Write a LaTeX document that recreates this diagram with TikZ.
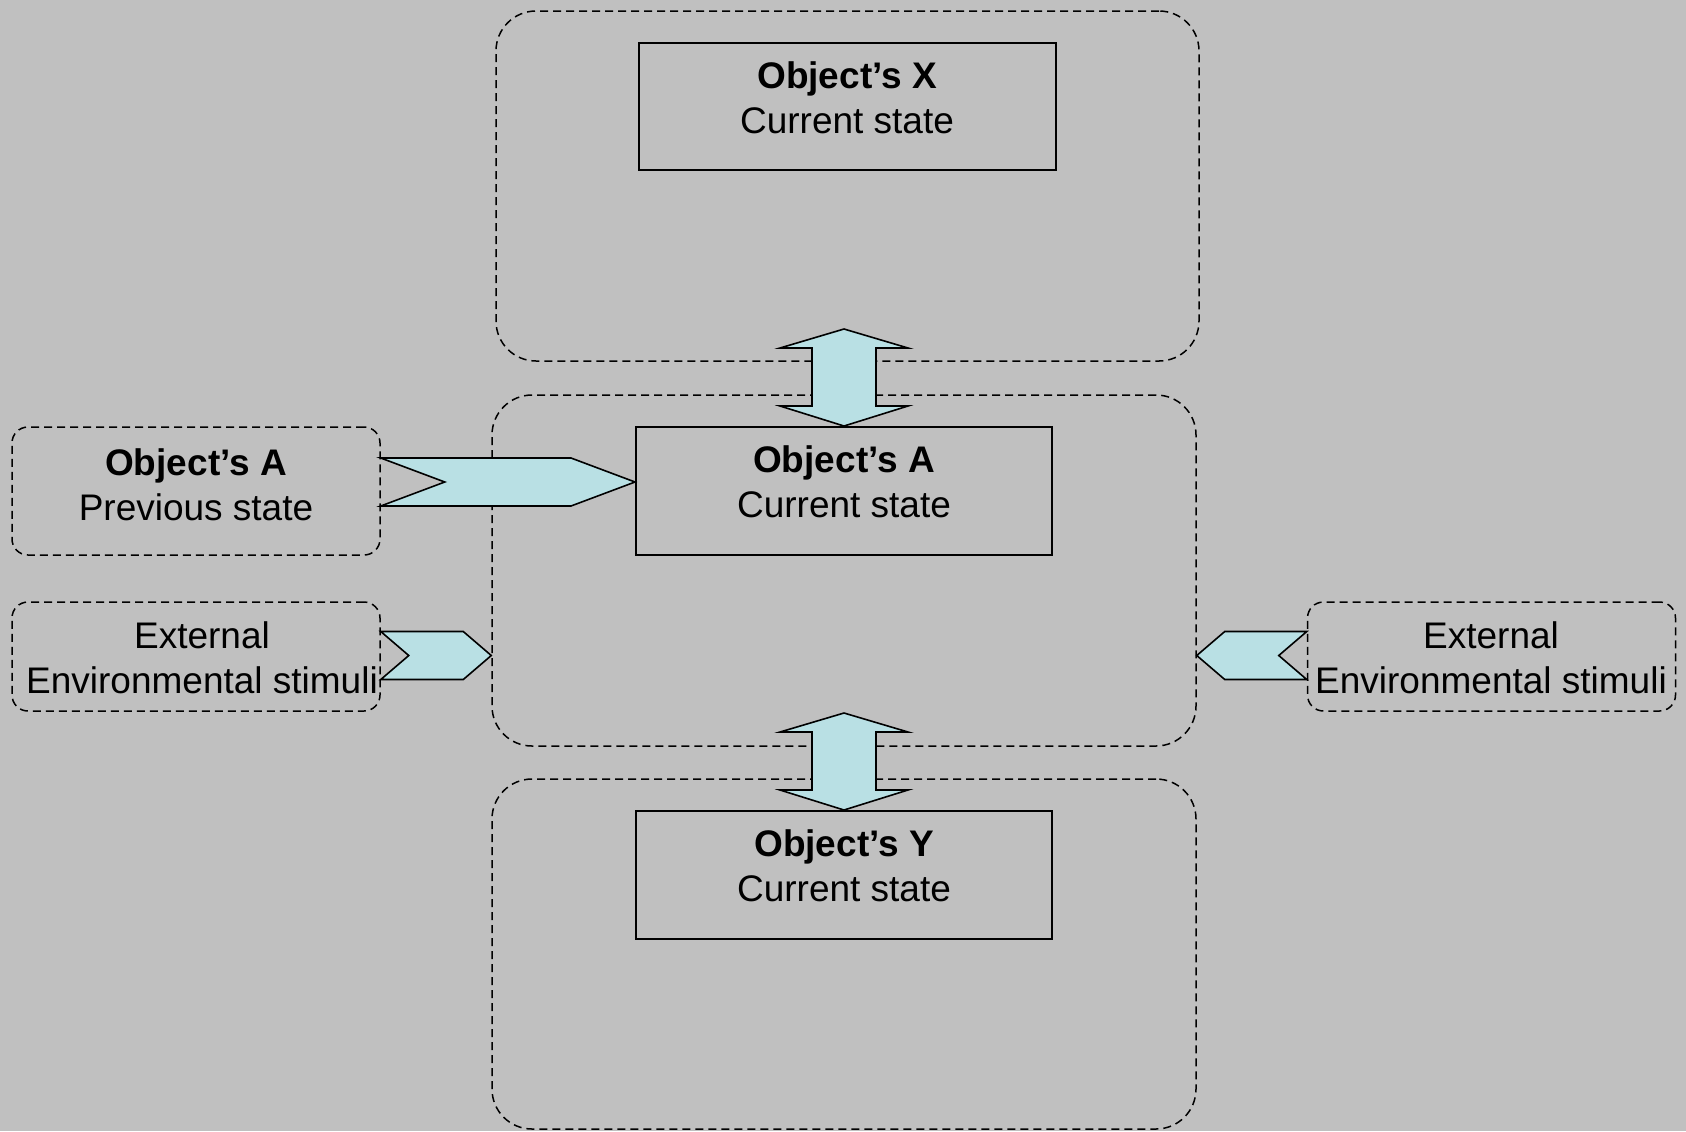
\documentclass[tikz,border=0pt]{standalone}
\usepackage{fontspec}
\setmainfont{Liberation Sans}
\usetikzlibrary{calc}
\definecolor{bggray}{RGB}{192,192,192}
\definecolor{arrowfill}{RGB}{185,224,228}
\begin{document}
\begin{tikzpicture}[x=0.5pt,y=-0.5pt,
  container/.style={draw, dashed, dash pattern=on 4pt off 2.5pt, line width=0.75pt, rounded corners=20pt, inner sep=0},
  smallbox/.style={draw, dashed, dash pattern=on 4pt off 2.5pt, line width=0.75pt, rounded corners=8pt, inner sep=0, minimum width=184pt, minimum height=64pt},
  statebox/.style={draw, line width=1pt, inner sep=0, minimum width=208pt, minimum height=64pt},
  txt/.style={inner sep=0, align=center, font=\fontsize{18.5}{22.5}\selectfont},
  blockarrow/.style={draw, line width=0.8pt, fill=arrowfill, line join=miter}
]
\fill[bggray] (0,0) rectangle (1686,1131);
\useasboundingbox (0,0) rectangle (1686,1131);

% containers
\node[container, minimum width=351.5pt, minimum height=175pt] (contX) at (847.5,186) {};
\node[container, minimum width=352pt, minimum height=175.5pt] (contA) at (844,570.5) {};
\node[container, minimum width=352pt, minimum height=175pt] (contY) at (844,954) {};

% state boxes
\node[statebox, minimum width=208.5pt, minimum height=63.5pt] (boxX) at (847.5,106.5) {};
\node[statebox] (boxA) at (844,491) {};
\node[statebox] (boxY) at (844,875) {};

% side boxes
\node[smallbox] (prev) at (196,491) {};
\node[smallbox, minimum height=54.5pt] (extL) at (196,656.5) {};
\node[smallbox, minimum height=54.5pt] (extR) at (1491.5,656.5) {};

% texts
\node[txt] (tX) at (847,97.5) {\textbf{Object’s X}\\Current state};
\node[txt] (tA) at (844,481.5) {\textbf{Object’s A}\\Current state};
\node[txt] (tY) at (844,865.5) {\textbf{Object’s Y}\\Current state};
\node[txt] (tP) at (196,485) {\textbf{Object’s A}\\Previous state};
\node[txt] (tL) at (202,657.5) {External\\Environmental stimuli};
\node[txt] (tR) at (1491,657.5) {External\\Environmental stimuli};

% arrow previous -> current A
\draw[blockarrow]
  ($(prev.east)+(0,-33)$) -- ($(boxA.west)+(-64,-33)$) -- ($(boxA.west)+(0,-9)$)
  -- ($(boxA.west)+(-64,15)$) -- ($(prev.east)+(0,15)$) -- ($(prev.east)+(64,-9)$) -- cycle;

% left external arrow
\coordinate (tipL) at (contA.west |- extL.east);
\draw[blockarrow]
  ($(extL.east)+(0,-25)$) -- ($(tipL)+(-28,-25)$) -- ($(tipL)+(0,-1)$)
  -- ($(tipL)+(-28,23)$) -- ($(extL.east)+(0,23)$) -- ($(extL.east)+(28,-1)$) -- cycle;

% right external arrow
\coordinate (tipR) at (contA.east |- extR.west);
\draw[blockarrow]
  ($(extR.west)+(0,-25)$) -- ($(tipR)+(28,-25)$) -- ($(tipR)+(0,-1)$)
  -- ($(tipR)+(28,23)$) -- ($(extR.west)+(0,23)$) -- ($(extR.west)+(-28,-1)$) -- cycle;

% double arrows
\foreach \b in {boxA,boxY}{
  \draw[blockarrow]
    ($(\b.north)+(0,-97)$) -- ($(\b.north)+(64,-78)$) -- ($(\b.north)+(32,-78)$)
    -- ($(\b.north)+(32,-20)$) -- ($(\b.north)+(64,-20)$) -- (\b.north)
    -- ($(\b.north)+(-64,-20)$) -- ($(\b.north)+(-32,-20)$) -- ($(\b.north)+(-32,-78)$)
    -- ($(\b.north)+(-64,-78)$) -- cycle;
}
\end{tikzpicture}
\end{document}
